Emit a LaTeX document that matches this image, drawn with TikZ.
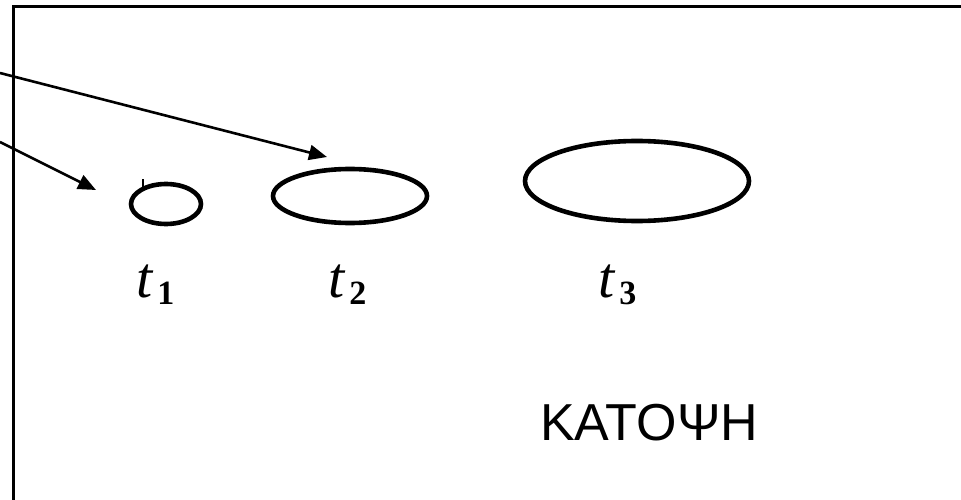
\documentclass[tikz,border=0pt]{standalone}
\usepackage{fontspec}
\setmainfont{Liberation Sans}
\newfontfamily\greekfont{Liberation Sans}
\newfontfamily\handfont{Liberation Serif}
\usetikzlibrary{arrows.meta}
\newcommand{\tsub}[1]{{\handfont\itshape t}\kern5pt\raisebox{-7pt}{\handfont\bfseries\fontsize{34}{34}\selectfont #1}}
\tikzset{
  frameline/.style={line width=3pt, line join=miter},
  blobline/.style={line width=4.6pt},
  pointer/.style={line width=2.6pt, -{Triangle[length=18pt,width=15pt]}},
  tlabel/.style={font=\fontsize{58}{58}\selectfont, inner sep=0pt, anchor=base west},
  title/.style={font=\greekfont\fontsize{52}{52}\selectfont, inner sep=0pt, anchor=base west}
}
\begin{document}
\begin{tikzpicture}[x=1pt,y=-1pt]
\useasboundingbox (0,0) rectangle (961,500);
\fill[white] (0,0) rectangle (961,500);
% frame
\draw[frameline] (13,501) -- (13,7) -- (962,7);
% blobs
\draw[blobline] (166,204) ellipse [x radius=35, y radius=20];
\node[inner sep=0pt, minimum size=0pt] (e1) at (166,204) {};
\draw[blobline] (350,196) ellipse [x radius=77, y radius=27];
\node[inner sep=0pt, minimum size=0pt] (e2) at (350,196) {};
\draw[blobline] (637,181) ellipse [x radius=112, y radius=40];
\node[inner sep=0pt, minimum size=0pt] (e3) at (637,181) {};
\draw[line width=1.5pt] (143,179) -- (143,190);
% arrows
\coordinate (s1) at (0,73);
\coordinate (s2) at (0,142);
\coordinate (p1) at (327,157);
\coordinate (p2) at (96,190);
\draw[pointer] (s1) -- (p1);
\draw[pointer] (s2) -- (p2);
% labels
\node[tlabel] (t1) at (136,297) {\tsub{1}};
\node[tlabel] (t2) at (328,297) {\tsub{2}};
\node[tlabel] (t3) at (598,297) {\tsub{3}};
\node[title] (kat) at (540,440) {ΚΑΤΟΨΗ};
\end{tikzpicture}
\end{document}
